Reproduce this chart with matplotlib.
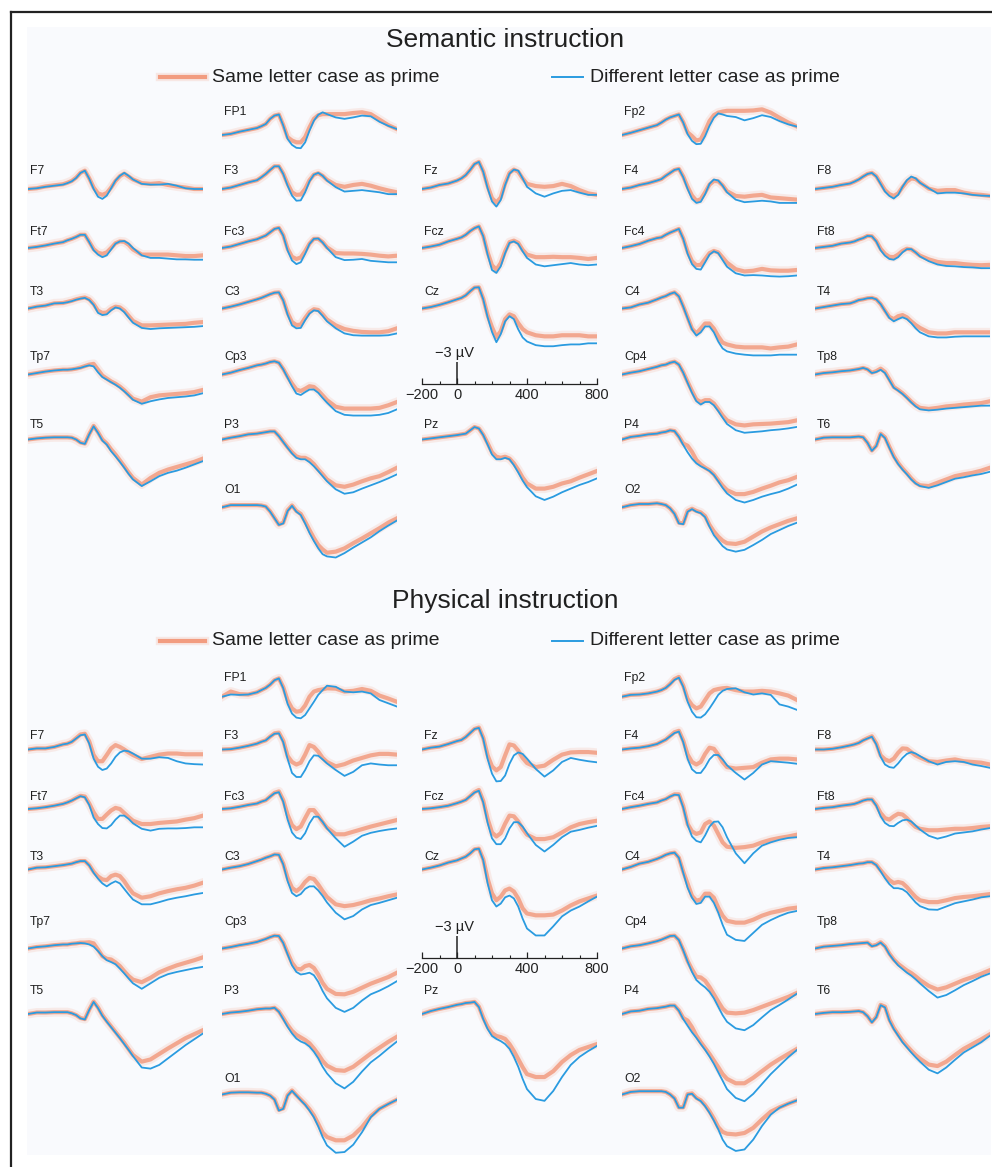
import matplotlib
matplotlib.use("Agg")
import matplotlib.pyplot as plt
from matplotlib.lines import Line2D
from matplotlib.patches import Rectangle

plt.rcParams["font.family"] = ["Liberation Sans", "DejaVu Sans"]
plt.rcParams["text.color"] = "#202020"

# sample times (ms) shared by every trace
TIMES = [-200, -150, -100, -50, 0, 25, 50, 75, 100, 125, 150, 175, 200, 225, 250,
         275, 300, 325, 350, 375, 400, 450, 500, 550, 600, 650, 700, 750, 800]

# ---- Semantic instruction (uV, negative plotted up) ----
sem_FP1_same = [0, -0.15, -0.45, -0.7, -0.95, -1.2, -1.5, -2.2, -2.65, -2.8, -1.35, 0.3, 0.75, 1.0, 1.0, 0.3, -1.05, -2.2, -2.7, -2.85, -2.85, -2.85, -2.85, -3.0, -3.1, -2.85, -2.1, -1.35, -0.8]
sem_FP1_diff = [0, -0.15, -0.45, -0.7, -0.95, -1.2, -1.5, -2.2, -2.65, -2.8, -1.3, 0.55, 1.35, 1.75, 1.8, 1.0, -0.6, -1.95, -2.75, -3.1, -2.85, -2.4, -2.2, -2.4, -2.65, -2.55, -1.8, -1.25, -0.8]
sem_Fp2_same = [0, -0.3, -0.65, -1.0, -1.35, -1.7, -2.1, -2.4, -2.6, -2.8, -1.75, -0.35, 0.15, 0.75, 0.6, -0.55, -1.9, -2.7, -3.05, -3.2, -3.3, -3.3, -3.3, -3.35, -3.5, -3.05, -2.35, -1.7, -1.15]
sem_Fp2_diff = [0, -0.3, -0.65, -1.0, -1.35, -1.7, -2.1, -2.4, -2.6, -2.8, -1.7, -0.1, 0.8, 1.25, 1.2, 0.15, -1.25, -2.35, -2.95, -2.8, -2.6, -2.45, -2.0, -2.3, -2.7, -2.45, -1.9, -1.45, -1.15]
sem_F7_same = [0, -0.1, -0.35, -0.5, -0.65, -0.85, -1.1, -1.55, -2.2, -2.5, -1.45, -0.2, 0.6, 0.8, 0.55, -0.2, -1.1, -1.75, -2.1, -1.7, -1.3, -0.8, -0.7, -0.8, -0.55, -0.35, -0.2, 0, 0]
sem_F7_diff = [0, -0.1, -0.3, -0.45, -0.6, -0.8, -1.05, -1.5, -2.2, -2.5, -1.4, 0, 1.05, 1.35, 0.9, -0.1, -1.15, -1.8, -2.2, -1.8, -1.3, -0.7, -0.6, -0.6, -0.7, -0.45, -0.1, 0, 0]
sem_F3_same = [0, -0.2, -0.55, -0.9, -1.2, -1.6, -2.05, -2.6, -3.1, -3.1, -2.1, -0.7, 0.45, 0.8, 0.75, 0, -1.2, -1.95, -2.15, -1.8, -1.25, -0.55, -0.3, -0.55, -0.7, -0.45, -0.1, 0.2, 0.45]
sem_F3_diff = [0, -0.2, -0.55, -0.9, -1.2, -1.6, -2.05, -2.6, -3.1, -3.1, -2.05, -0.45, 0.9, 1.6, 1.55, 0.45, -1.05, -1.95, -2.2, -1.8, -1.15, -0.25, 0.35, 0.25, 0.15, 0.3, 0.45, 0.7, 0.7]
sem_Fz_same = [0, -0.2, -0.55, -0.75, -1.15, -1.45, -1.9, -2.6, -3.4, -3.7, -2.4, -0.4, 1.25, 1.85, 1.15, -0.75, -2.2, -2.65, -2.35, -1.45, -0.7, -0.4, -0.3, -0.4, -0.7, -0.4, 0.15, 0.6, 0.8]
sem_Fz_diff = [0, -0.2, -0.55, -0.75, -1.15, -1.45, -1.9, -2.6, -3.4, -3.7, -2.35, -0.1, 1.7, 2.4, 1.5, -0.55, -2.1, -2.65, -2.5, -1.45, -0.3, 0.6, 1.05, 0.6, 0.25, 0.15, 0.5, 0.8, 0.8]
sem_F4_same = [0, -0.2, -0.55, -0.8, -1.15, -1.35, -1.8, -2.2, -2.6, -2.75, -1.7, -0.3, 0.9, 1.6, 1.4, 0.45, -0.6, -1.1, -1.05, -0.5, 0.3, 0.95, 1.05, 0.9, 0.8, 1.15, 1.25, 1.35, 1.45]
sem_F4_diff = [0, -0.2, -0.55, -0.8, -1.15, -1.35, -1.8, -2.2, -2.6, -2.75, -1.6, 0, 1.35, 1.9, 1.75, 0.7, -0.7, -1.3, -1.15, -0.45, 0.45, 1.45, 1.8, 1.7, 1.6, 1.7, 1.9, 1.9, 1.9]
sem_F8_same = [0, -0.15, -0.3, -0.55, -0.75, -1.0, -1.3, -1.7, -2.05, -2.2, -1.75, -0.8, 0.15, 0.7, 0.95, 0.6, -0.25, -1.0, -1.45, -1.35, -0.9, -0.05, 0.25, 0.15, 0.15, 0.5, 0.7, 0.8, 0.95]
sem_F8_diff = [0, -0.15, -0.3, -0.55, -0.75, -1.0, -1.3, -1.7, -2.05, -2.2, -1.7, -0.7, 0.35, 0.95, 1.3, 0.8, -0.3, -1.2, -1.7, -1.45, -0.85, -0.1, 0.6, 0.5, 0.5, 0.6, 0.8, 0.9, 0.95]
sem_Ft7_same = [0, -0.15, -0.35, -0.6, -0.8, -1.05, -1.25, -1.5, -1.8, -1.8, -0.85, 0.15, 0.65, 0.8, 0.6, 0, -0.65, -0.9, -0.85, -0.45, 0.2, 0.9, 0.9, 0.9, 0.9, 1.0, 1.1, 1.1, 1.0]
sem_Ft7_diff = [0, -0.15, -0.35, -0.6, -0.8, -1.05, -1.25, -1.5, -1.8, -1.8, -0.8, 0.3, 0.9, 1.25, 1.0, 0.2, -0.6, -0.9, -0.95, -0.6, 0, 1.0, 1.35, 1.35, 1.45, 1.55, 1.55, 1.6, 1.6]
sem_Fc3_same = [0, -0.2, -0.55, -0.9, -1.2, -1.45, -1.7, -2.15, -2.6, -2.75, -1.75, 0.1, 1.2, 1.5, 1.3, 0.45, -0.6, -1.25, -1.25, -0.8, -0.1, 0.7, 0.75, 0.75, 0.8, 0.9, 1.05, 1.15, 1.05]
sem_Fc3_diff = [0, -0.2, -0.55, -0.9, -1.2, -1.45, -1.7, -2.15, -2.6, -2.75, -1.7, 0.35, 1.7, 2.2, 1.95, 0.8, -0.55, -1.25, -1.3, -0.75, 0, 1.25, 1.65, 1.6, 1.5, 1.75, 1.85, 1.95, 1.95]
sem_Fcz_same = [0, -0.2, -0.45, -0.9, -1.25, -1.45, -1.8, -2.3, -2.7, -2.95, -1.65, 0.6, 2.35, 2.95, 2.05, 0.45, -0.8, -1.0, -0.7, 0.25, 0.9, 1.25, 1.25, 1.2, 1.25, 1.25, 1.35, 1.5, 1.35]
sem_Fcz_diff = [0, -0.2, -0.45, -0.9, -1.25, -1.45, -1.8, -2.3, -2.7, -2.95, -1.6, 0.9, 3.0, 3.4, 2.5, 0.7, -0.7, -0.9, -0.55, 0.45, 1.35, 2.25, 2.5, 2.35, 2.2, 2.05, 2.25, 2.35, 2.25]
sem_Fc4_same = [0, -0.25, -0.55, -1.0, -1.35, -1.45, -1.8, -2.1, -2.35, -2.6, -1.3, 0.5, 1.8, 2.35, 2.3, 1.5, 0.7, 0.4, 0.6, 1.3, 2.0, 2.9, 3.2, 3.1, 2.85, 3.05, 3.1, 3.1, 3.0]
sem_Fc4_diff = [0, -0.25, -0.55, -1.0, -1.35, -1.45, -1.8, -2.1, -2.35, -2.6, -1.25, 0.8, 2.2, 2.85, 2.95, 1.95, 0.9, 0.45, 0.7, 1.65, 2.55, 3.45, 3.75, 3.7, 3.75, 3.85, 3.9, 3.85, 3.75]
sem_Ft8_same = [0, -0.15, -0.3, -0.6, -0.75, -0.9, -1.15, -1.35, -1.65, -1.6, -0.95, 0.1, 0.8, 1.2, 1.25, 0.9, 0.4, 0.1, 0.2, 0.6, 1.05, 1.55, 1.9, 2.05, 2.05, 2.2, 2.3, 2.35, 2.3]
sem_Ft8_diff = [0, -0.15, -0.3, -0.6, -0.75, -0.9, -1.15, -1.35, -1.65, -1.6, -0.9, 0.3, 1.05, 1.5, 1.6, 1.25, 0.6, 0.15, 0.15, 0.6, 1.15, 1.8, 2.25, 2.45, 2.5, 2.6, 2.65, 2.75, 2.75]
sem_T3_same = [0, -0.25, -0.4, -0.7, -0.75, -0.9, -1.05, -1.25, -1.4, -1.5, -1.25, -0.6, 0.3, 0.6, 0.55, 0.05, -0.25, -0.15, 0.3, 1.0, 1.7, 2.3, 2.3, 2.25, 2.2, 2.15, 2.1, 1.95, 1.85]
sem_T3_diff = [0, -0.25, -0.4, -0.7, -0.75, -0.85, -1.0, -1.2, -1.35, -1.45, -1.15, -0.5, 0.6, 0.9, 0.8, 0.25, -0.15, 0, 0.5, 1.25, 1.95, 2.65, 2.8, 2.7, 2.65, 2.6, 2.55, 2.5, 2.4]
sem_C3_same = [0, -0.25, -0.55, -0.9, -1.25, -1.45, -1.7, -1.95, -2.15, -2.2, -1.15, 0.6, 1.85, 2.25, 2.2, 1.3, 0.5, 0.1, 0.2, 0.8, 1.5, 2.3, 2.8, 3.05, 3.2, 3.25, 3.25, 3.1, 2.7]
sem_C3_diff = [0, -0.25, -0.55, -0.9, -1.25, -1.45, -1.7, -1.95, -2.15, -2.2, -1.1, 0.85, 2.3, 2.7, 2.65, 1.6, 0.7, 0.25, 0.35, 1.0, 1.75, 2.7, 3.4, 3.65, 3.7, 3.7, 3.7, 3.65, 3.4]
sem_Cz_same = [0, -0.2, -0.5, -0.85, -1.25, -1.45, -1.8, -2.35, -2.85, -2.9, -1.35, 0.9, 2.55, 3.9, 3.1, 1.45, 0.8, 1.05, 2.0, 2.8, 3.25, 3.65, 3.8, 3.8, 3.65, 3.65, 3.65, 3.8, 3.8]
sem_Cz_diff = [0, -0.2, -0.5, -0.85, -1.25, -1.45, -1.8, -2.35, -2.85, -2.9, -1.25, 1.2, 3.2, 4.6, 3.5, 1.75, 1.05, 1.45, 2.85, 3.95, 4.5, 5.0, 5.15, 5.15, 5.0, 4.9, 4.9, 4.75, 4.75]
sem_C4_same = [0, -0.15, -0.55, -0.8, -1.25, -1.5, -1.7, -2.0, -2.2, -1.65, -0.3, 1.2, 2.75, 3.4, 2.75, 2.05, 2.05, 2.75, 3.8, 4.65, 4.9, 5.2, 5.3, 5.3, 5.3, 5.45, 5.3, 5.2, 4.9]
sem_C4_diff = [0, -0.15, -0.55, -0.8, -1.25, -1.5, -1.7, -2.0, -2.2, -1.65, -0.25, 1.35, 2.85, 3.7, 3.25, 2.45, 2.45, 3.25, 4.5, 5.45, 5.85, 6.15, 6.3, 6.4, 6.4, 6.4, 6.3, 6.3, 6.3]
sem_T4_same = [0, -0.2, -0.4, -0.6, -0.7, -0.9, -1.15, -1.25, -1.4, -1.45, -1.25, -0.6, 0.3, 1.15, 1.45, 1.05, 0.9, 1.2, 1.75, 2.25, 2.65, 3.25, 3.4, 3.4, 3.25, 3.25, 3.25, 3.25, 3.25]
sem_T4_diff = [0, -0.2, -0.4, -0.6, -0.7, -0.9, -1.15, -1.25, -1.4, -1.45, -1.25, -0.6, 0.35, 1.3, 1.75, 1.45, 1.2, 1.45, 2.0, 2.7, 3.25, 3.8, 3.95, 3.95, 3.85, 3.8, 3.8, 3.8, 3.8]
sem_Tp7_same = [0, -0.2, -0.4, -0.55, -0.65, -0.65, -0.7, -0.8, -0.95, -1.15, -1.35, -1.45, -0.65, 0.15, 0.55, 0.95, 1.25, 1.65, 2.15, 2.75, 3.3, 3.7, 3.1, 2.85, 2.75, 2.65, 2.55, 2.4, 2.1]
sem_Tp7_diff = [0, -0.2, -0.4, -0.55, -0.65, -0.65, -0.7, -0.8, -0.9, -1.1, -1.25, -1.1, -0.3, 0.35, 0.7, 1.05, 1.4, 1.8, 2.3, 2.85, 3.45, 4.0, 3.65, 3.4, 3.2, 3.1, 3.0, 2.85, 2.55]
sem_Cp3_same = [0, -0.25, -0.6, -0.9, -1.25, -1.35, -1.5, -1.7, -1.8, -1.6, -0.75, 0.3, 1.25, 2.05, 2.25, 1.95, 1.6, 1.7, 2.2, 2.85, 3.5, 4.4, 4.65, 4.65, 4.65, 4.65, 4.55, 4.2, 3.75]
sem_Cp3_diff = [0, -0.25, -0.6, -0.9, -1.25, -1.35, -1.5, -1.7, -1.8, -1.6, -0.7, 0.45, 1.6, 2.6, 2.8, 2.4, 2.05, 2.05, 2.5, 3.2, 3.85, 5.0, 5.5, 5.6, 5.6, 5.6, 5.5, 5.25, 4.75]
sem_Cp4_same = [0, -0.25, -0.45, -0.75, -1.05, -1.25, -1.35, -1.6, -1.75, -1.35, -0.3, 1.0, 2.25, 3.4, 3.75, 3.5, 3.5, 3.95, 4.75, 5.6, 6.25, 6.8, 6.95, 6.8, 6.75, 6.7, 6.6, 6.5, 6.25]
sem_Cp4_diff = [0, -0.25, -0.45, -0.75, -1.05, -1.25, -1.35, -1.6, -1.75, -1.35, -0.25, 1.15, 2.5, 3.65, 4.1, 3.75, 3.75, 4.2, 5.0, 5.9, 6.75, 7.6, 7.95, 7.85, 7.75, 7.6, 7.5, 7.35, 7.15]
sem_Tp8_same = [0, -0.2, -0.3, -0.45, -0.55, -0.65, -0.75, -0.9, -0.7, -0.25, -0.45, -0.8, -0.35, 0.65, 1.7, 2.1, 2.55, 3.1, 3.7, 4.2, 4.55, 4.7, 4.55, 4.35, 4.25, 4.1, 4.0, 3.9, 3.65]
sem_Tp8_diff = [0, -0.2, -0.3, -0.45, -0.55, -0.65, -0.75, -0.9, -0.7, -0.2, -0.35, -0.65, -0.2, 0.8, 1.8, 2.2, 2.65, 3.2, 3.8, 4.35, 4.75, 4.9, 4.8, 4.65, 4.55, 4.45, 4.35, 4.25, 4.25]
sem_T5_same = [0, -0.15, -0.25, -0.3, -0.3, -0.3, -0.25, 0, 0.4, 0.55, -0.75, -1.85, -1.0, 0.0, 0.55, 1.35, 2.05, 2.85, 3.65, 4.5, 5.25, 6.15, 5.25, 4.55, 4.1, 3.75, 3.4, 3.05, 2.6]
sem_T5_diff = [0, -0.15, -0.25, -0.3, -0.3, -0.3, -0.25, 0, 0.45, 0.6, -0.7, -1.8, -0.9, 0.15, 0.7, 1.6, 2.3, 3.05, 3.85, 4.7, 5.45, 6.35, 5.7, 5.0, 4.55, 4.25, 3.85, 3.4, 2.95]
sem_P3_same = [0, -0.25, -0.45, -0.7, -0.8, -0.9, -1.0, -1.1, -1.1, -0.5, 0.3, 1.05, 1.75, 2.3, 2.5, 2.5, 2.8, 3.35, 4.1, 4.75, 5.45, 6.25, 6.45, 6.15, 5.7, 5.3, 5.0, 4.45, 3.85]
sem_P3_diff = [0, -0.25, -0.45, -0.7, -0.8, -0.9, -1.0, -1.1, -1.1, -0.45, 0.35, 1.15, 1.9, 2.5, 2.7, 2.7, 3.1, 3.65, 4.3, 5.0, 5.7, 6.8, 7.4, 7.2, 6.7, 6.25, 5.8, 5.3, 4.75]
sem_Pz_same = [0, -0.15, -0.3, -0.45, -0.6, -0.7, -0.8, -1.25, -1.7, -1.5, -0.65, 0.5, 1.75, 2.35, 2.5, 2.35, 2.6, 3.25, 4.15, 5.2, 6.0, 6.7, 6.7, 6.45, 6.0, 5.7, 5.2, 4.75, 4.3]
sem_Pz_diff = [0, -0.15, -0.3, -0.45, -0.6, -0.7, -0.8, -1.25, -1.7, -1.5, -0.6, 0.7, 2.05, 2.7, 2.7, 2.5, 2.7, 3.5, 4.5, 5.6, 6.5, 7.75, 8.25, 7.8, 7.2, 6.7, 6.2, 5.8, 5.3]
sem_P4_same = [0, -0.35, -0.5, -0.7, -0.8, -0.95, -1.05, -1.25, -1.15, -0.4, 0.55, 0.85, 1.7, 2.8, 3.4, 3.85, 4.2, 4.75, 5.55, 6.3, 6.9, 7.45, 7.45, 7.15, 6.7, 6.3, 5.85, 5.55, 5.1]
sem_P4_diff = [0, -0.35, -0.5, -0.7, -0.8, -0.95, -1.05, -1.25, -1.15, -0.35, 0.75, 1.75, 2.6, 3.25, 3.65, 3.95, 4.3, 4.85, 5.7, 6.6, 7.35, 8.25, 8.6, 8.25, 7.8, 7.45, 7.15, 6.7, 6.15]
sem_T6_same = [0, -0.25, -0.3, -0.3, -0.3, -0.35, -0.4, -0.3, 0.45, 1.5, 0.85, -0.8, -0.3, 1.0, 2.25, 3.2, 3.95, 4.6, 5.3, 5.9, 6.25, 6.35, 5.9, 5.45, 5.0, 4.75, 4.55, 4.25, 3.85]
sem_T6_diff = [0, -0.25, -0.3, -0.3, -0.3, -0.35, -0.4, -0.3, 0.45, 1.55, 0.9, -0.75, -0.2, 1.15, 2.4, 3.35, 4.1, 4.75, 5.45, 6.0, 6.35, 6.6, 6.25, 5.8, 5.35, 5.15, 4.9, 4.7, 4.4]
sem_O1_same = [0, -0.3, -0.3, -0.3, -0.3, -0.25, -0.1, 0.55, 1.45, 2.35, 2.1, 0.4, -0.25, 0.5, 0.9, 1.95, 3.1, 4.2, 5.15, 5.75, 6.2, 6.05, 5.6, 4.9, 4.25, 3.55, 2.85, 2.1, 1.5]
sem_O1_diff = [0, -0.3, -0.3, -0.3, -0.3, -0.25, -0.1, 0.6, 1.5, 2.4, 2.2, 0.5, -0.2, 0.6, 1.05, 2.2, 3.5, 4.6, 5.6, 6.4, 6.7, 6.85, 6.25, 5.5, 4.8, 4.1, 3.25, 2.5, 1.8]
sem_O2_same = [0, -0.3, -0.45, -0.45, -0.55, -0.45, -0.3, 0.15, 0.85, 2.1, 2.2, 0.5, 0.2, 0.5, 0.7, 1.2, 2.4, 3.3, 4.0, 4.55, 4.9, 5.0, 4.7, 4.0, 3.3, 2.75, 2.3, 1.85, 1.5]
sem_O2_diff = [0, -0.3, -0.45, -0.45, -0.55, -0.45, -0.3, 0.15, 0.9, 2.2, 2.3, 0.6, 0.25, 0.6, 0.8, 1.35, 2.65, 3.8, 4.55, 5.3, 5.75, 6.05, 5.8, 5.15, 4.45, 3.65, 3.1, 2.55, 2.1]

# ---- Physical instruction ----
phy_FP1_same = [0, -0.7, -0.35, -0.3, -0.6, -0.9, -1.2, -1.65, -2.25, -2.5, -1.3, 0.5, 1.6, 2.05, 1.95, 1.2, 0.0, -0.7, -0.9, -1.0, -1.15, -1.1, -0.7, -0.8, -1.05, -0.8, -0.15, 0.25, 0.7]
phy_FP1_diff = [0, -0.3, -0.25, -0.3, -0.6, -0.9, -1.2, -1.65, -2.25, -2.5, -1.15, 1.0, 2.3, 2.85, 2.95, 2.5, 1.6, 0.7, -0.25, -0.9, -1.5, -1.35, -0.7, -0.6, -0.7, -0.45, 0.45, 0.9, 1.35]
phy_Fp2_same = [0, -0.25, -0.3, -0.45, -0.7, -0.9, -1.2, -1.75, -2.4, -2.7, -1.5, 0.3, 1.15, 1.6, 1.35, 0.45, -0.45, -0.9, -1.05, -1.15, -1.2, -0.9, -0.7, -0.7, -0.8, -0.7, -0.45, -0.15, 0.45]
phy_Fp2_diff = [0, -0.25, -0.3, -0.45, -0.7, -0.9, -1.2, -1.7, -2.3, -2.6, -1.35, 0.7, 2.05, 2.8, 2.85, 2.4, 1.6, 0.7, -0.25, -0.8, -1.05, -1.15, -0.6, -0.3, -0.45, -0.25, 1.05, 1.35, 1.8]
phy_F7_same = [0, -0.15, -0.15, -0.35, -0.7, -0.8, -1.05, -1.55, -2.05, -2.15, -1.1, 0.75, 1.6, 1.6, 0.75, -0.15, -0.6, -0.35, 0, 0.4, 0.75, 1.3, 1.0, 0.7, 0.55, 0.55, 0.65, 0.65, 0.65]
phy_F7_diff = [0, -0.15, -0.15, -0.35, -0.7, -0.8, -1.05, -1.5, -1.95, -2.05, -0.8, 1.25, 2.35, 2.8, 2.6, 1.9, 1.0, 0.4, 0.15, 0.25, 0.55, 1.25, 1.25, 1.05, 1.15, 1.6, 1.9, 2.0, 2.05]
phy_F3_same = [0, -0.05, -0.25, -0.5, -0.8, -1.05, -1.25, -1.75, -2.2, -2.3, -1.2, 0.9, 1.7, 2.05, 1.8, 0.7, -0.6, -0.35, 0.3, 1.15, 1.7, 2.3, 2.0, 1.5, 1.15, 0.8, 0.6, 0.6, 0.7]
phy_F3_diff = [0, -0.05, -0.25, -0.5, -0.8, -1.05, -1.25, -1.75, -2.15, -2.2, -1.0, 1.3, 3.2, 3.75, 3.75, 2.8, 1.6, 0.8, 0.85, 1.35, 1.9, 2.8, 3.6, 3.05, 2.15, 1.9, 2.05, 2.15, 2.15]
phy_Fz_same = [0, -0.25, -0.4, -0.75, -1.15, -1.3, -1.7, -2.25, -2.8, -3.0, -1.6, 0.8, 2.3, 2.85, 2.4, 0.8, -0.7, -0.55, 0.15, 1.15, 1.85, 2.4, 2.2, 1.4, 0.7, 0.4, 0.35, 0.35, 0.45]
phy_Fz_diff = [0, -0.25, -0.4, -0.75, -1.15, -1.3, -1.7, -2.25, -2.8, -2.95, -1.45, 1.3, 3.3, 4.35, 4.3, 3.55, 1.95, 0.8, 0.4, 0.6, 1.25, 2.65, 3.7, 2.85, 1.7, 1.15, 1.4, 1.6, 1.75]
phy_F4_same = [0, -0.15, -0.25, -0.45, -0.75, -1.05, -1.35, -1.85, -2.35, -2.55, -1.2, 0.7, 1.7, 2.05, 1.7, 0.6, -0.25, -0.1, 0.7, 1.7, 2.4, 2.6, 2.5, 2.4, 1.8, 1.35, 1.25, 1.25, 1.35]
phy_F4_diff = [0, -0.15, -0.25, -0.45, -0.75, -1.05, -1.35, -1.8, -2.25, -2.45, -1.0, 1.3, 2.7, 3.2, 3.2, 2.4, 1.35, 0.75, 0.75, 1.35, 2.15, 3.2, 4.1, 3.2, 2.05, 1.6, 1.7, 1.8, 1.95]
phy_F8_same = [0, 0, -0.1, -0.3, -0.55, -0.7, -0.9, -1.25, -1.55, -1.8, -0.85, 0.8, 1.35, 1.6, 1.25, 0.45, -0.15, -0.1, 0.35, 0.8, 1.1, 1.6, 1.7, 1.5, 1.35, 1.6, 1.7, 1.8, 2.05]
phy_F8_diff = [0, 0, -0.1, -0.3, -0.55, -0.7, -0.9, -1.25, -1.5, -1.75, -0.7, 1.0, 2.05, 2.4, 2.5, 1.9, 1.15, 0.6, 0.35, 0.55, 0.9, 1.6, 2.05, 1.7, 1.6, 1.7, 2.05, 2.25, 2.5]
phy_Ft7_same = [0, -0.1, -0.25, -0.45, -0.7, -0.9, -1.15, -1.5, -1.8, -1.7, -0.75, 0.45, 1.35, 1.35, 0.75, 0.2, -0.15, 0, 0.55, 1.1, 1.6, 2.05, 2.05, 1.9, 1.8, 1.7, 1.45, 1.25, 0.9]
phy_Ft7_diff = [0, -0.1, -0.25, -0.45, -0.7, -0.9, -1.15, -1.45, -1.75, -1.6, -0.55, 1.15, 2.05, 2.6, 2.65, 2.2, 1.45, 0.9, 0.9, 1.35, 1.95, 2.7, 2.95, 2.7, 2.65, 2.65, 2.6, 2.5, 2.5]
phy_Fc3_same = [0, -0.1, -0.3, -0.55, -0.75, -1.0, -1.2, -1.7, -2.2, -2.4, -1.2, 0.8, 2.2, 2.75, 2.4, 1.25, 0.15, 0.15, 0.9, 1.8, 2.55, 3.45, 3.45, 3.1, 2.75, 2.4, 2.1, 1.8, 1.5]
phy_Fc3_diff = [0, -0.1, -0.3, -0.55, -0.75, -1.0, -1.2, -1.7, -2.15, -2.3, -1.0, 1.45, 3.2, 3.9, 4.1, 3.3, 1.95, 1.05, 1.05, 1.75, 2.65, 4.0, 5.15, 4.45, 3.65, 3.25, 3.0, 2.8, 2.65]
phy_Fcz_same = [0, -0.1, -0.25, -0.45, -0.8, -1.0, -1.25, -1.75, -2.3, -2.6, -1.1, 1.35, 3.2, 3.75, 3.3, 2.0, 0.9, 1.0, 1.7, 2.7, 3.5, 4.1, 4.1, 3.85, 3.2, 2.5, 2.05, 1.8, 1.6]
phy_Fcz_diff = [0, -0.1, -0.25, -0.45, -0.8, -1.0, -1.25, -1.75, -2.25, -2.5, -0.9, 1.9, 4.0, 4.8, 4.8, 4.0, 2.65, 1.8, 1.8, 2.4, 3.3, 4.9, 5.8, 4.9, 3.85, 3.1, 2.85, 2.55, 2.3]
phy_Fc4_same = [0, -0.25, -0.45, -0.7, -0.9, -1.15, -1.35, -1.7, -2.0, -2.0, -0.4, 2.05, 3.05, 3.4, 3.2, 2.05, 1.7, 2.25, 3.4, 4.55, 5.15, 5.3, 5.2, 5.0, 4.55, 4.2, 3.95, 3.75, 3.5]
phy_Fc4_diff = [0, -0.25, -0.45, -0.7, -0.9, -1.15, -1.35, -1.7, -1.95, -1.9, -0.2, 2.2, 3.75, 4.35, 4.55, 3.6, 2.4, 1.75, 1.7, 2.5, 3.85, 6.05, 7.4, 6.05, 5.0, 4.55, 4.2, 3.95, 3.85]
phy_Ft8_same = [0, -0.15, -0.25, -0.45, -0.6, -0.7, -0.9, -1.15, -1.3, -1.3, -0.55, 0.55, 1.25, 1.45, 1.0, 0.65, 0.75, 1.25, 1.9, 2.45, 2.7, 2.9, 2.9, 2.8, 2.7, 2.7, 2.6, 2.45, 2.35]
phy_Ft8_diff = [0, -0.15, -0.25, -0.45, -0.6, -0.7, -0.9, -1.15, -1.3, -1.3, -0.45, 1.0, 1.9, 2.3, 2.35, 1.9, 1.55, 1.45, 1.7, 2.25, 2.8, 3.65, 4.05, 3.75, 3.35, 3.2, 3.05, 2.8, 2.6]
phy_T3_same = [0, -0.25, -0.3, -0.45, -0.6, -0.7, -0.8, -1.0, -1.15, -1.15, -0.6, 0.3, 0.95, 1.35, 1.45, 0.9, 0.7, 0.9, 1.6, 2.5, 3.25, 3.85, 3.65, 3.25, 2.95, 2.7, 2.5, 2.2, 1.8]
phy_T3_diff = [0, -0.25, -0.3, -0.45, -0.6, -0.7, -0.8, -1.0, -1.15, -1.15, -0.55, 0.45, 1.25, 1.9, 2.3, 1.9, 1.6, 1.9, 2.65, 3.4, 4.1, 4.75, 4.75, 4.45, 4.1, 3.85, 3.65, 3.4, 3.2]
phy_C3_same = [0, -0.25, -0.45, -0.75, -1.15, -1.35, -1.6, -1.8, -2.05, -2.05, -0.8, 1.15, 2.5, 2.95, 2.5, 1.7, 1.15, 1.3, 2.05, 2.95, 3.75, 4.75, 5.0, 4.85, 4.55, 4.2, 3.95, 3.65, 3.4]
phy_C3_diff = [0, -0.25, -0.45, -0.75, -1.15, -1.35, -1.6, -1.8, -2.05, -2.0, -0.7, 1.6, 3.2, 3.65, 3.35, 2.65, 2.3, 2.3, 2.85, 3.6, 4.5, 5.9, 6.8, 6.35, 5.45, 4.85, 4.55, 4.2, 3.85]
phy_Cz_same = [0, -0.25, -0.55, -0.95, -1.25, -1.5, -1.75, -2.2, -2.75, -2.85, -1.4, 1.25, 3.25, 4.2, 3.7, 2.85, 2.6, 3.0, 3.95, 5.3, 6.0, 6.25, 6.25, 6.15, 5.6, 4.9, 4.35, 3.95, 3.55]
phy_Cz_diff = [0, -0.25, -0.55, -0.95, -1.25, -1.5, -1.75, -2.2, -2.75, -2.85, -1.25, 1.9, 4.2, 5.05, 4.65, 3.8, 3.55, 3.95, 5.05, 6.7, 8.05, 9.0, 9.0, 7.75, 6.4, 5.6, 5.05, 4.35, 3.7]
phy_C4_same = [0, -0.35, -0.8, -1.05, -1.45, -1.7, -2.0, -2.2, -2.3, -1.6, 0.3, 1.95, 3.6, 4.25, 4.1, 3.3, 3.3, 3.85, 5.2, 6.3, 7.0, 7.25, 7.25, 6.85, 6.3, 5.9, 5.65, 5.35, 5.2]
phy_C4_diff = [0, -0.35, -0.8, -1.05, -1.45, -1.7, -2.0, -2.2, -2.3, -1.6, 0.45, 2.5, 3.85, 4.7, 4.55, 3.7, 3.7, 4.55, 5.9, 7.55, 8.9, 9.6, 9.75, 8.65, 7.55, 6.9, 6.35, 5.9, 5.65]
phy_T4_same = [0, -0.2, -0.3, -0.45, -0.6, -0.7, -0.8, -0.85, -1.0, -1.0, -0.65, 0.1, 0.8, 1.45, 1.85, 1.7, 1.85, 2.4, 3.1, 3.75, 4.2, 4.45, 4.45, 4.2, 3.9, 3.75, 3.65, 3.5, 3.35]
phy_T4_diff = [0, -0.2, -0.3, -0.45, -0.6, -0.7, -0.8, -0.85, -1.0, -1.0, -0.6, 0.25, 1.2, 2.0, 2.55, 2.55, 2.7, 3.1, 3.8, 4.5, 5.0, 5.45, 5.5, 5.05, 4.6, 4.35, 4.1, 3.8, 3.65]
phy_Tp7_same = [0, -0.2, -0.3, -0.45, -0.55, -0.55, -0.65, -0.7, -0.8, -0.8, -0.85, -0.7, 0.15, 1.05, 1.4, 1.5, 1.9, 2.4, 3.1, 3.75, 4.25, 4.6, 4.0, 3.25, 2.75, 2.3, 1.95, 1.6, 1.2]
phy_Tp7_diff = [0, -0.2, -0.3, -0.45, -0.55, -0.55, -0.65, -0.7, -0.75, -0.7, -0.55, -0.25, 0.35, 1.05, 1.6, 1.85, 2.15, 2.75, 3.4, 4.1, 4.75, 5.5, 4.75, 4.0, 3.5, 3.2, 2.95, 2.7, 2.5]
phy_Cp3_same = [0, -0.2, -0.45, -0.65, -0.9, -1.1, -1.3, -1.55, -1.75, -1.7, -0.8, 0.6, 1.95, 2.75, 2.85, 2.4, 2.25, 2.65, 3.55, 4.7, 5.5, 6.2, 6.25, 5.9, 5.35, 4.8, 4.35, 3.9, 3.3]
phy_Cp3_diff = [0, -0.2, -0.45, -0.65, -0.9, -1.1, -1.3, -1.55, -1.75, -1.7, -0.75, 0.8, 2.3, 3.2, 3.55, 3.45, 3.3, 3.65, 4.55, 5.8, 6.8, 8.1, 8.65, 8.1, 7.1, 6.25, 5.75, 5.15, 4.45]
phy_Cp4_same = [0, -0.3, -0.45, -0.7, -1.0, -1.2, -1.45, -1.7, -1.75, -1.15, 0.2, 1.7, 2.85, 3.85, 3.95, 4.4, 5.25, 6.25, 7.25, 8.2, 8.75, 8.85, 8.75, 8.4, 7.95, 7.5, 7.05, 6.6, 6.05]
phy_Cp4_diff = [0, -0.3, -0.45, -0.7, -1.0, -1.2, -1.45, -1.7, -1.75, -1.15, 0.25, 1.8, 3.2, 4.3, 4.85, 5.3, 5.9, 6.8, 7.95, 9.1, 10.0, 10.9, 11.15, 10.45, 9.4, 8.4, 7.7, 6.95, 6.15]
phy_Tp8_same = [0, -0.25, -0.35, -0.45, -0.6, -0.65, -0.7, -0.75, -0.8, -0.35, -0.5, -0.85, -0.3, 0.7, 1.5, 2.1, 2.55, 3.0, 3.35, 3.8, 4.3, 5.1, 5.6, 5.3, 4.8, 4.3, 3.9, 3.45, 2.95]
phy_Tp8_diff = [0, -0.25, -0.35, -0.45, -0.6, -0.65, -0.7, -0.75, -0.8, -0.3, -0.45, -0.8, -0.25, 0.8, 1.6, 2.3, 2.8, 3.3, 3.7, 4.2, 4.75, 5.8, 6.7, 6.35, 5.7, 5.0, 4.45, 3.85, 3.4]
phy_T5_same = [0, -0.2, -0.2, -0.25, -0.25, -0.25, -0.1, 0.15, 0.55, 0.7, -0.6, -1.7, -0.9, 0.15, 0.95, 1.7, 2.45, 3.2, 3.95, 4.8, 5.6, 6.5, 6.2, 5.45, 4.7, 4.0, 3.3, 2.75, 2.2]
phy_T5_diff = [0, -0.2, -0.2, -0.25, -0.25, -0.25, -0.1, 0.15, 0.6, 0.75, -0.55, -1.65, -0.8, 0.25, 1.05, 1.8, 2.55, 3.3, 4.1, 4.9, 5.75, 7.3, 7.45, 6.95, 6.05, 5.15, 4.25, 3.45, 2.65]
phy_P3_same = [0, -0.2, -0.3, -0.45, -0.65, -0.7, -0.75, -0.75, -0.85, -0.35, 0.55, 1.5, 2.3, 2.85, 3.2, 3.55, 4.0, 4.7, 5.5, 6.4, 7.05, 7.65, 7.75, 7.2, 6.3, 5.4, 4.6, 3.8, 3.1]
phy_P3_diff = [0, -0.2, -0.3, -0.45, -0.65, -0.7, -0.75, -0.75, -0.85, -0.3, 0.7, 1.75, 2.65, 3.35, 3.75, 4.0, 4.45, 5.15, 6.05, 7.2, 8.1, 9.45, 10.15, 9.25, 7.85, 6.6, 5.7, 4.7, 3.75]
phy_Pz_same = [0, -0.4, -0.7, -0.95, -1.25, -1.35, -1.5, -1.55, -1.65, -1.0, 0.5, 1.75, 2.6, 3.0, 3.15, 3.4, 4.1, 5.05, 6.15, 7.25, 8.2, 8.6, 8.6, 7.8, 6.55, 5.6, 4.9, 4.5, 4.1]
phy_Pz_diff = [0, -0.4, -0.7, -0.95, -1.25, -1.35, -1.5, -1.55, -1.65, -0.95, 0.7, 2.05, 3.0, 3.4, 3.7, 4.1, 4.75, 5.85, 7.2, 8.85, 10.25, 11.6, 11.85, 10.5, 8.6, 6.95, 5.85, 5.05, 4.35]
phy_P4_same = [0, -0.35, -0.45, -0.7, -0.8, -0.9, -1.0, -1.15, -1.15, -0.5, 0.55, 0.9, 1.8, 2.95, 3.85, 4.65, 5.45, 6.35, 7.25, 8.2, 8.85, 9.45, 9.45, 8.7, 7.8, 6.9, 6.15, 5.45, 4.75]
phy_P4_diff = [0, -0.35, -0.45, -0.7, -0.8, -0.9, -1.0, -1.15, -1.15, -0.45, 0.7, 1.6, 2.5, 3.25, 4.1, 4.9, 5.8, 6.8, 7.95, 9.1, 10.25, 11.45, 11.9, 10.9, 9.55, 8.2, 7.05, 5.9, 4.9]
phy_T6_same = [0, -0.15, -0.25, -0.25, -0.3, -0.35, -0.4, -0.25, 0.3, 1.1, 0.4, -1.25, -1.0, 0.75, 1.9, 2.8, 3.65, 4.35, 5.0, 5.6, 6.1, 6.9, 7.1, 6.5, 5.6, 4.75, 4.1, 3.45, 2.75]
phy_T6_diff = [0, -0.15, -0.25, -0.25, -0.3, -0.35, -0.4, -0.25, 0.3, 1.15, 0.45, -1.2, -0.9, 0.9, 2.05, 2.95, 3.85, 4.55, 5.25, 5.9, 6.5, 7.6, 8.1, 7.3, 6.25, 5.25, 4.55, 3.85, 2.95]
phy_O1_same = [0, -0.25, -0.3, -0.3, -0.25, -0.25, -0.1, 0.15, 0.65, 2.1, 1.9, 0.1, -0.55, 0.1, 0.7, 1.3, 2.0, 2.85, 4.0, 5.2, 5.8, 6.25, 6.25, 5.6, 4.45, 2.95, 1.95, 1.3, 0.7]
phy_O1_diff = [0, -0.25, -0.3, -0.3, -0.25, -0.25, -0.1, 0.15, 0.7, 2.2, 1.95, 0.15, -0.5, 0.15, 0.8, 1.4, 2.2, 3.1, 4.35, 5.8, 6.95, 7.95, 7.85, 6.85, 5.15, 3.1, 1.95, 1.3, 0.7]
phy_O2_same = [0, -0.35, -0.45, -0.45, -0.45, -0.45, -0.35, 0, 0.5, 1.75, 1.75, -0.05, -0.15, 0.45, 0.8, 1.45, 2.3, 3.3, 4.45, 5.1, 5.35, 5.45, 5.25, 4.55, 3.4, 2.35, 1.75, 1.25, 0.8]
phy_O2_diff = [0, -0.35, -0.45, -0.45, -0.45, -0.45, -0.35, 0, 0.55, 1.8, 1.8, 0, -0.1, 0.55, 0.9, 1.6, 2.5, 3.55, 4.75, 6.15, 7.05, 7.7, 7.5, 6.15, 4.3, 2.75, 1.8, 1.25, 0.8]

# electrode name, row, column
LAYOUT = [("FP1", 0, 1), ("Fp2", 0, 3),
          ("F7", 1, 0), ("F3", 1, 1), ("Fz", 1, 2), ("F4", 1, 3), ("F8", 1, 4),
          ("Ft7", 2, 0), ("Fc3", 2, 1), ("Fcz", 2, 2), ("Fc4", 2, 3), ("Ft8", 2, 4),
          ("T3", 3, 0), ("C3", 3, 1), ("Cz", 3, 2), ("C4", 3, 3), ("T4", 3, 4),
          ("Tp7", 4, 0), ("Cp3", 4, 1), ("Cp4", 4, 3), ("Tp8", 4, 4),
          ("T5", 5, 0), ("P3", 5, 1), ("Pz", 5, 2), ("P4", 5, 3), ("T6", 5, 4),
          ("O1", 6, 1), ("O2", 6, 3)]

SEM = {
    "FP1": (sem_FP1_same, sem_FP1_diff), "Fp2": (sem_Fp2_same, sem_Fp2_diff),
    "F7": (sem_F7_same, sem_F7_diff), "F3": (sem_F3_same, sem_F3_diff),
    "Fz": (sem_Fz_same, sem_Fz_diff), "F4": (sem_F4_same, sem_F4_diff),
    "F8": (sem_F8_same, sem_F8_diff), "Ft7": (sem_Ft7_same, sem_Ft7_diff),
    "Fc3": (sem_Fc3_same, sem_Fc3_diff), "Fcz": (sem_Fcz_same, sem_Fcz_diff),
    "Fc4": (sem_Fc4_same, sem_Fc4_diff), "Ft8": (sem_Ft8_same, sem_Ft8_diff),
    "T3": (sem_T3_same, sem_T3_diff), "C3": (sem_C3_same, sem_C3_diff),
    "Cz": (sem_Cz_same, sem_Cz_diff), "C4": (sem_C4_same, sem_C4_diff),
    "T4": (sem_T4_same, sem_T4_diff), "Tp7": (sem_Tp7_same, sem_Tp7_diff),
    "Cp3": (sem_Cp3_same, sem_Cp3_diff), "Cp4": (sem_Cp4_same, sem_Cp4_diff),
    "Tp8": (sem_Tp8_same, sem_Tp8_diff), "T5": (sem_T5_same, sem_T5_diff),
    "P3": (sem_P3_same, sem_P3_diff), "Pz": (sem_Pz_same, sem_Pz_diff),
    "P4": (sem_P4_same, sem_P4_diff), "T6": (sem_T6_same, sem_T6_diff),
    "O1": (sem_O1_same, sem_O1_diff), "O2": (sem_O2_same, sem_O2_diff),
}
PHY = {
    "FP1": (phy_FP1_same, phy_FP1_diff), "Fp2": (phy_Fp2_same, phy_Fp2_diff),
    "F7": (phy_F7_same, phy_F7_diff), "F3": (phy_F3_same, phy_F3_diff),
    "Fz": (phy_Fz_same, phy_Fz_diff), "F4": (phy_F4_same, phy_F4_diff),
    "F8": (phy_F8_same, phy_F8_diff), "Ft7": (phy_Ft7_same, phy_Ft7_diff),
    "Fc3": (phy_Fc3_same, phy_Fc3_diff), "Fcz": (phy_Fcz_same, phy_Fcz_diff),
    "Fc4": (phy_Fc4_same, phy_Fc4_diff), "Ft8": (phy_Ft8_same, phy_Ft8_diff),
    "T3": (phy_T3_same, phy_T3_diff), "C3": (phy_C3_same, phy_C3_diff),
    "Cz": (phy_Cz_same, phy_Cz_diff), "C4": (phy_C4_same, phy_C4_diff),
    "T4": (phy_T4_same, phy_T4_diff), "Tp7": (phy_Tp7_same, phy_Tp7_diff),
    "Cp3": (phy_Cp3_same, phy_Cp3_diff), "Cp4": (phy_Cp4_same, phy_Cp4_diff),
    "Tp8": (phy_Tp8_same, phy_Tp8_diff), "T5": (phy_T5_same, phy_T5_diff),
    "P3": (phy_P3_same, phy_P3_diff), "Pz": (phy_Pz_same, phy_Pz_diff),
    "P4": (phy_P4_same, phy_P4_diff), "T6": (phy_T6_same, phy_T6_diff),
    "O1": (phy_O1_same, phy_O1_diff), "O2": (phy_O2_same, phy_O2_diff),
}

SCALE_UV = 3

# ---- layout (pixels) ----
W, H = 992, 1167
COL_X = [28, 222, 422, 622, 815]
TRACE_W = 175
PX = 7.33            # pixels per microvolt
UP, DOWN = 45, 100   # axes extent around the baseline
ORANGE, BLUE, BG, INK = "#F29C80", "#2A9BE0", "#F9FAFD", "#222222"


def fx(p):
    return p / W


def fy(p):
    return 1 - p / H


fig = plt.figure(figsize=(W / 100, H / 100), dpi=100)
# light panel behind everything (below the axes)
fig.patches.append(Rectangle((fx(27), fy(1155)), (991 - 27) / W, (1155 - 27) / H,
                             transform=fig.transFigure, facecolor=BG, edgecolor="none", zorder=-5))
fig.add_artist(Line2D([fx(11), fx(11)], [fy(12), fy(H + 5)], color=INK, lw=1.6))
fig.add_artist(Line2D([fx(11), fx(W + 5)], [fy(12), fy(12)], color=INK, lw=1.6))


def draw_panel(traces, row_y, label_y, scale_y, title_y, legend_y, title):
    fig.text(fx(505), fy(title_y), title, ha="center", va="center", fontsize=19)
    # legend
    fig.add_artist(Line2D([fx(160), fx(205)], [fy(legend_y)] * 2, color=ORANGE, lw=6, alpha=0.2))
    fig.add_artist(Line2D([fx(160), fx(205)], [fy(legend_y)] * 2, color=ORANGE, lw=3))
    fig.text(fx(212), fy(legend_y), "Same letter case as prime", ha="left", va="center", fontsize=14)
    fig.add_artist(Line2D([fx(552), fx(583)], [fy(legend_y)] * 2, color=BLUE, lw=1.4))
    fig.text(fx(590), fy(legend_y), "Different letter case as prime", ha="left", va="center", fontsize=14)

    for name, row, col in LAYOUT:
        same, diff = traces[name]
        x0, yb = COL_X[col], row_y[row]
        ax = fig.add_axes([fx(x0), fy(yb + DOWN), TRACE_W / W, (UP + DOWN) / H])
        ax.set_xlim(-200, 800)
        ax.set_ylim(DOWN / PX, -UP / PX)
        ax.axis("off")
        ax.plot(TIMES, same, color=ORANGE, lw=6.5, alpha=0.16, solid_joinstyle="round")
        ax.plot(TIMES, same, color=ORANGE, lw=3, alpha=0.85, solid_joinstyle="round")
        ax.plot(TIMES, diff, color=BLUE, lw=1.3, solid_joinstyle="round")
        fig.text(fx(x0 + 2), fy(label_y[row]), name, ha="left", va="center", fontsize=8.8)

    # scale bar
    sax = fig.add_axes([fx(COL_X[2]), fy(scale_y + 12), TRACE_W / W, 50 / H])
    sax.set_xlim(-200, 800)
    sax.set_ylim(12 / PX, -38 / PX)
    sax.patch.set_visible(False)
    for s in ("top", "left", "right"):
        sax.spines[s].set_visible(False)
    sax.spines["bottom"].set_position(("data", 0))
    sax.spines["bottom"].set_linewidth(0.9)
    sax.spines["bottom"].set_color(INK)
    sax.set_yticks([])
    sax.set_xticks([-200, 0, 400, 800])
    sax.set_xticklabels(["\u2212200", "0", "400", "800"])
    sax.set_xticks([-100, 100, 200, 300, 500, 600, 700], minor=True)
    sax.tick_params(axis="x", which="major", direction="in", length=4, width=0.9,
                    labelsize=10.5, pad=3, colors=INK)
    sax.tick_params(axis="x", which="minor", direction="in", length=2.2, width=0.8, colors=INK)
    sax.vlines(0, 0, -SCALE_UV, color=INK, lw=1.1)
    sax.text(-15, -SCALE_UV - 0.3, "\u22123 \u00b5V", ha="center", va="bottom", fontsize=10.5)


draw_panel(SEM,
           [135, 189, 248, 308.5, 374.5, 439.5, 507.3],
           [112, 171, 232, 292, 357, 425, 490],
           384, 40, 77, "Semantic instruction")
draw_panel(PHY,
           [696.7, 749.5, 809, 869.5, 948.5, 1014, 1094.5],
           [678, 736, 797.5, 856.5, 922, 990.5, 1078.5],
           958, 601, 641, "Physical instruction")

fig.savefig("out.png", dpi=100, facecolor="white")
